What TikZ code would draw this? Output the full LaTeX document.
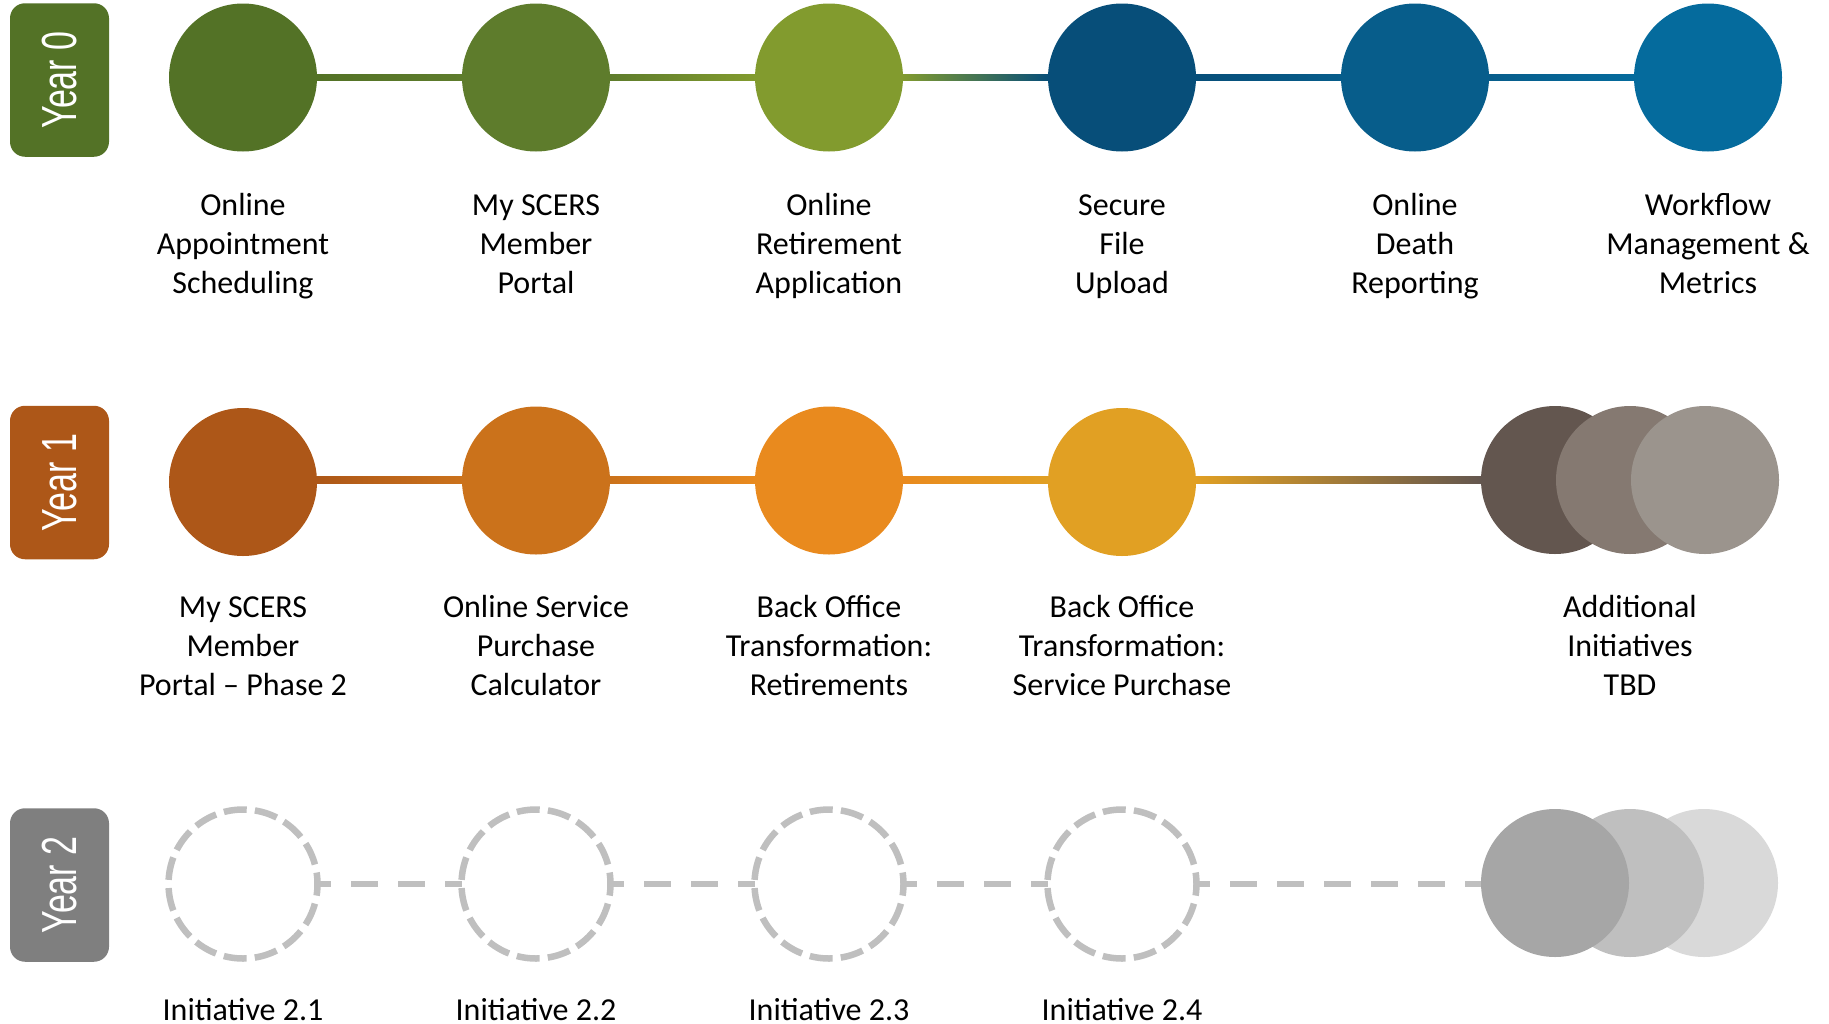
\documentclass[tikz,border=0pt]{standalone}
\usepackage{fontspec}
\newfontfamily\labfont{Carlito}
\newfontfamily\yrfont{Liberation Sans}
\usetikzlibrary{calc,backgrounds}
\definecolor{gA}{HTML}{537226}
\definecolor{gB}{HTML}{5E7C2C}
\definecolor{gC}{HTML}{829B2E}
\definecolor{bA}{HTML}{074E79}
\definecolor{bB}{HTML}{075D8B}
\definecolor{bC}{HTML}{056B9D}
\definecolor{oA}{HTML}{AD5718}
\definecolor{oB}{HTML}{CB721B}
\definecolor{oC}{HTML}{E98A1E}
\definecolor{oD}{HTML}{E1A023}
\definecolor{brA}{HTML}{63564F}
\definecolor{brB}{HTML}{857971}
\definecolor{brC}{HTML}{9B948D}
\definecolor{gyA}{HTML}{A6A6A6}
\definecolor{gyB}{HTML}{BFBFBF}
\definecolor{gyC}{HTML}{D9D9D9}
\definecolor{yrgrey}{HTML}{7F7F7F}
\definecolor{ringgrey}{HTML}{BFBFBF}
\begin{document}
\begin{tikzpicture}[x=1pt,y=1pt,
  dot/.style={circle, minimum size=148pt, inner sep=0pt, outer sep=0pt},
  ring/.style={circle, minimum size=149pt, inner sep=0pt, outer sep=0pt, draw=ringgrey, line width=6.5pt, dash pattern=on 23pt off 8.2pt, dash phase=11.5pt},
  yearbox/.style={rotate=90, rounded corners=15pt, minimum width=153.5pt, minimum height=99pt, inner sep=0pt, text=white, font=\yrfont\fontsize{34}{40}\selectfont},
  lab/.style={anchor=north, align=center, inner sep=0pt, font=\labfont\fontsize{32}{39}\selectfont},
  dashline/.style={draw=ringgrey, line width=6.5pt, dash pattern=on 27pt off 20pt, dash phase=13.5pt}
]
\useasboundingbox (0,0) rectangle (1829,-1023);

% year boxes
\node[yearbox, fill=gA] (y0) at (59.5,-80) {\scalebox{1}[1.45]{Year 0}};
\node[yearbox, fill=oA] (y1) at (59.5,-482.5) {\scalebox{1}[1.45]{Year 1}};
\node[yearbox, fill=yrgrey] (y2) at (59.5,-885) {\scalebox{1}[1.45]{Year 2}};

% row 0
\node[dot, fill=gA] (a1) at (243,-77.5) {};
\node[dot, fill=gB] (a2) at (536,-77.5) {};
\node[dot, fill=gC] (a3) at (829,-77.5) {};
\node[dot, fill=bA] (a4) at (1122,-77.5) {};
\node[dot, fill=bB] (a5) at (1415,-77.5) {};
\node[dot, fill=bC] (a6) at (1708,-77.5) {};

\node[lab] (la1) at (243,-187.7) {\strut Online\\Appointment\\Scheduling};
\node[lab] (la2) at (536,-187.7) {\strut My SCERS\\Member\\Portal};
\node[lab] (la3) at (829,-187.7) {\strut Online\\Retirement\\Application};
\node[lab] (la4) at (1122,-187.7) {\strut Secure\\File\\Upload};
\node[lab] (la5) at (1415,-187.7) {\strut Online\\Death\\Reporting};
\node[lab] (la6) at (1708,-187.7) {\strut Workflow\\Management \&\\Metrics};

% row 1
\node[dot, fill=oA] (b1) at (243,-482) {};
\node[dot, fill=oB] (b2) at (536,-480.5) {};
\node[dot, fill=oC] (b3) at (829,-480.5) {};
\node[dot, fill=oD] (b4) at (1122,-482) {};
\node[dot, fill=brA] (bg1) at (1555,-480) {};
\node[dot, fill=brB] (bg2) at (1630,-480) {};
\node[dot, fill=brC] (bg3) at (1705,-480) {};

\node[lab] (lb1) at (243,-589.7) {\strut My SCERS\\Member\\Portal – Phase 2};
\node[lab] (lb2) at (536,-589.7) {\strut Online Service\\Purchase\\Calculator};
\node[lab] (lb3) at (829,-589.7) {\strut Back Office\\Transformation:\\Retirements};
\node[lab] (lb4) at (1122,-589.7) {\strut Back Office\\Transformation:\\Service Purchase};
\node[lab] (lb5) at (1630,-589.7) {\strut Additional\\Initiatives\\TBD};

% row 2
\node[ring] (c1) at (243,-884) {};
\node[ring] (c2) at (536,-884) {};
\node[ring] (c3) at (829,-884) {};
\node[ring] (c4) at (1122,-884) {};
\node[dot, fill=gyC] (cg3) at (1704,-883) {};
\node[dot, fill=gyB] (cg2) at (1630,-883) {};
\node[dot, fill=gyA] (cg1) at (1555,-883) {};

\node[lab] (lc1) at (243,-992.7) {\rule{0pt}{27.3pt}Initiative 2.1};
\node[lab] (lc2) at (536,-992.7) {\rule{0pt}{27.3pt}Initiative 2.2};
\node[lab] (lc3) at (829,-992.7) {\rule{0pt}{27.3pt}Initiative 2.3};
\node[lab] (lc4) at (1122,-992.7) {\rule{0pt}{27.3pt}Initiative 2.4};

% connectors
\begin{scope}[on background layer]
\fill[left color=gA, right color=gB] ($(a1.east)+(-1,3.25)$) rectangle ($(a2.west)+(1,-3.25)$);
\fill[left color=gB, right color=gC] ($(a2.east)+(-1,3.25)$) rectangle ($(a3.west)+(1,-3.25)$);
\fill[left color=gC, right color=bA] ($(a3.east)+(-1,3.25)$) rectangle ($(a4.west)+(1,-3.25)$);
\fill[left color=bA, right color=bB] ($(a4.east)+(-1,3.25)$) rectangle ($(a5.west)+(1,-3.25)$);
\fill[left color=bB, right color=bC] ($(a5.east)+(-1,3.25)$) rectangle ($(a6.west)+(1,-3.25)$);

\fill[left color=oA, right color=oB] ($(b1.east |- bg1.center)+(-1,3.25)$) rectangle ($(b2.west |- bg1.center)+(1,-3.25)$);
\fill[left color=oB, right color=oC] ($(b2.east |- bg1.center)+(-1,3.25)$) rectangle ($(b3.west |- bg1.center)+(1,-3.25)$);
\fill[left color=oC, right color=oD] ($(b3.east |- bg1.center)+(-1,3.25)$) rectangle ($(b4.west |- bg1.center)+(1,-3.25)$);
\fill[left color=oD, right color=brA] ($(b4.east |- bg1.center)+(-1,3.25)$) rectangle ($(bg1.west)+(1,-3.25)$);

\draw[dashline] (c1.east) -- (c2.west);
\draw[dashline] (c2.east) -- (c3.west);
\draw[dashline] (c3.east) -- (c4.west);
\draw[dashline] (c4.east) -- (c4.east -| cg1.west);
\end{scope}
\end{tikzpicture}
\end{document}
